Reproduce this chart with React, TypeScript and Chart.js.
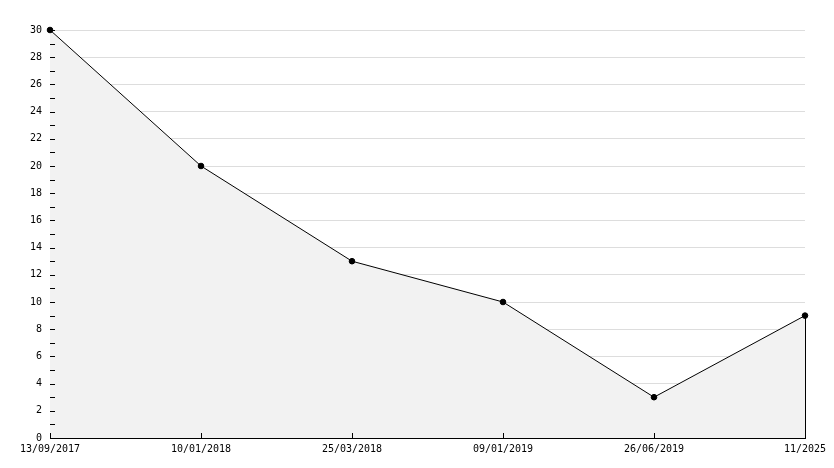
import React, { useEffect, useRef } from "react";
import { Chart, registerables } from "chart.js";

Chart.register(...registerables);

const categories = ["13/09/2017", "10/01/2018", "25/03/2018", "09/01/2019", "26/06/2019", "11/2025"];
const values = [30, 20, 13, 10, 3, 9];
const yMin = 0;
const yMax = 30;

const FONT = "'DejaVu Sans Mono', monospace";

const innerTicks = {
  id: "innerTicks",
  afterDatasetsDraw(chart: any) {
    const ctx = chart.ctx;
    const x = chart.scales.x;
    const y = chart.scales.y;
    const area = chart.chartArea;
    ctx.save();
    ctx.strokeStyle = "#000";
    ctx.lineWidth = 1;
    ctx.beginPath();
    for (let i = 0; i < categories.length; i++) {
      const px = Math.round(x.getPixelForValue(i)) + 0.5;
      ctx.moveTo(px, area.bottom);
      ctx.lineTo(px, area.bottom - 5);
    }
    for (let v = yMin; v <= yMax; v++) {
      const py = Math.round(y.getPixelForValue(v)) + 0.5;
      ctx.moveTo(area.left, py);
      ctx.lineTo(area.left + 5, py);
    }
    const last = values.length - 1;
    const lx = Math.round(x.getPixelForValue(last)) + 0.5;
    ctx.moveTo(lx, y.getPixelForValue(values[last]));
    ctx.lineTo(lx, area.bottom);
    ctx.stroke();
    ctx.restore();
  },
};

export default function App() {
  const ref = useRef<HTMLCanvasElement>(null);
  useEffect(() => {
    document.body.style.margin = "0";
    const chart = new Chart(ref.current!, {
      type: "line",
      data: {
        labels: categories,
        datasets: [
          {
            data: values,
            borderColor: "#000",
            borderWidth: 1,
            backgroundColor: "#f2f2f2",
            fill: "origin",
            tension: 0,
            clip: false,
            pointRadius: 2.8,
            pointBackgroundColor: "#000",
            pointBorderColor: "#000",
            pointBorderWidth: 1,
          },
        ],
      },
      options: {
        animation: false,
        responsive: false,
        events: [],
        layout: { padding: { top: 30, right: 29, left: 0, bottom: 0 } },
        plugins: { legend: { display: false }, tooltip: { enabled: false } },
        scales: {
          x: {
            type: "category",
            offset: false,
            grid: { display: false, drawTicks: false },
            border: { display: true, color: "#000", width: 1 },
            ticks: {
              color: "#000",
              font: { family: FONT, size: 10 },
              padding: 5,
              maxRotation: 0,
              autoSkip: false,
            },
            afterFit(scale: any) {
              scale.height = 30;
            },
          },
          y: {
            min: yMin,
            max: yMax,
            grid: {
              drawTicks: false,
              color: (c: any) => (c.tick && c.tick.value % 2 === 0 && c.tick.value !== 0 ? "#dddddd" : "rgba(0,0,0,0)"),
              lineWidth: 1,
            },
            border: { display: true, color: "#000", width: 1 },
            ticks: {
              stepSize: 1,
              autoSkip: false,
              color: "#000",
              font: { family: FONT, size: 10 },
              padding: 8,
              callback: (v: any) => (Number(v) % 2 === 0 ? String(v) : ""),
            },
            afterFit(scale: any) {
              scale.width = 50;
            },
          },
        },
      },
      plugins: [innerTicks],
    });
    return () => chart.destroy();
  }, []);
  return <canvas ref={ref} width={834} height={468} style={{ display: "block" }} />;
}
